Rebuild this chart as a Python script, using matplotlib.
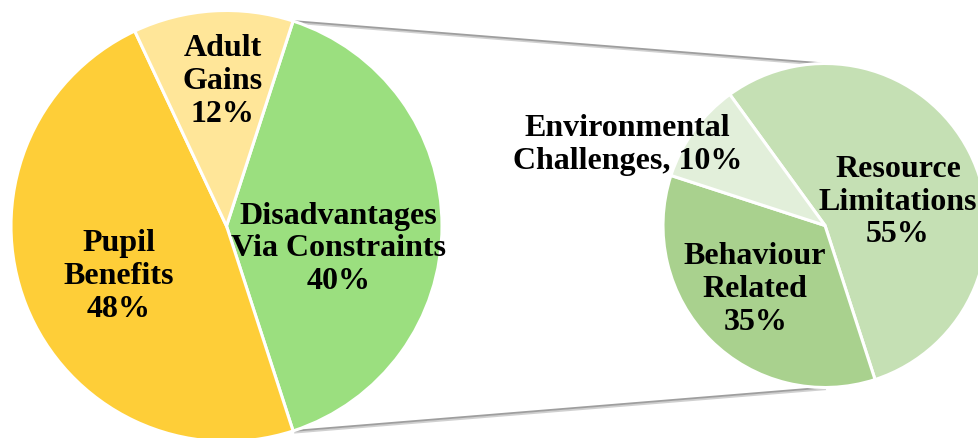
import matplotlib
matplotlib.use("Agg")
import matplotlib.pyplot as plt
import numpy as np

# Main breakdown (left pie)
main_labels = ["Disadvantages\nVia Constraints", "Pupil\nBenefits", "Adult\nGains"]
main_values = [40, 48, 12]
main_colors = ["#9BDF7F", "#FECE38", "#FFE699"]

# Breakdown of "Disadvantages Via Constraints" (right pie)
sub_labels = ["Resource\nLimitations", "Behaviour\nRelated", "Environmental\nChallenges"]
sub_values = [55, 35, 10]
sub_colors = ["#C5E0B4", "#A9D18E", "#E2EFDA"]

W, H = 979, 439
fig = plt.figure(figsize=(W / 100, H / 100), dpi=100)
ax = fig.add_axes([0, 0, 1, 1])

font = dict(family="Liberation Serif", weight="bold", size=23, color="black")

# Pie geometry (pixel units)
c1, r1 = (226.5, 212.0), 215.5
c2, r2 = (825.0, 212.5), 162.0
edge = dict(edgecolor="white", linewidth=2.2)

w1, _ = ax.pie(main_values, colors=main_colors, startangle=72, counterclock=False,
               center=c1, radius=r1, wedgeprops=edge, frame=True)
w2, _ = ax.pie(sub_values, colors=sub_colors, startangle=126, counterclock=False,
               center=c2, radius=r2, wedgeprops=edge, frame=True)
ax.set_xlim(0, W)
ax.set_ylim(0, H)
ax.set_aspect("equal")
ax.axis("off")


def put_label(w, center, radius, text, dang, dist):
    mid = np.deg2rad((w.theta1 + w.theta2) / 2 + dang)
    x = center[0] + dist * radius * np.cos(mid)
    y = center[1] + dist * radius * np.sin(mid)
    ax.text(x, y, text, ha="center", va="center", linespacing=1.17, **font)


# (angle offset from wedge middle in degrees, distance as fraction of radius)
main_layout = [(-11, 0.53), (3, 0.55), (-2, 0.675)]
for w, lab, val, (dang, dist) in zip(w1, main_labels, main_values, main_layout):
    put_label(w, c1, r1, f"{lab}\n{val}%", dang, dist)

sub_layout = [(-8.5, 0.475), (-3, 0.58), (13.6, 1.32)]
sub_sep = ["\n", "\n", ", "]
for w, lab, val, (dang, dist), sep in zip(w2, sub_labels, sub_values, sub_layout, sub_sep):
    put_label(w, c2, r2, f"{lab}{sep}{val}%", dang, dist)

# Connector lines from the exploded wedge to the secondary pie
d = w1[0]
for ang, tgt in [(d.theta2, 90), (d.theta1, -90)]:
    a = np.deg2rad(ang)
    b = np.deg2rad(tgt)
    x0 = c1[0] + r1 * np.cos(a)
    y0 = c1[1] + r1 * np.sin(a)
    x1 = c2[0] + r2 * np.cos(b)
    y1 = c2[1] + r2 * np.sin(b)
    ax.plot([x0 + 1, x1 + 1], [y0 - 1.5, y1 - 1.5], color="#D0D0D0", lw=1.6,
            solid_capstyle="butt", zorder=0)
    ax.plot([x0, x1], [y0, y1], color="#9E9E9E", lw=1.3,
            solid_capstyle="butt", zorder=0)

fig.savefig("out.png", dpi=100)
